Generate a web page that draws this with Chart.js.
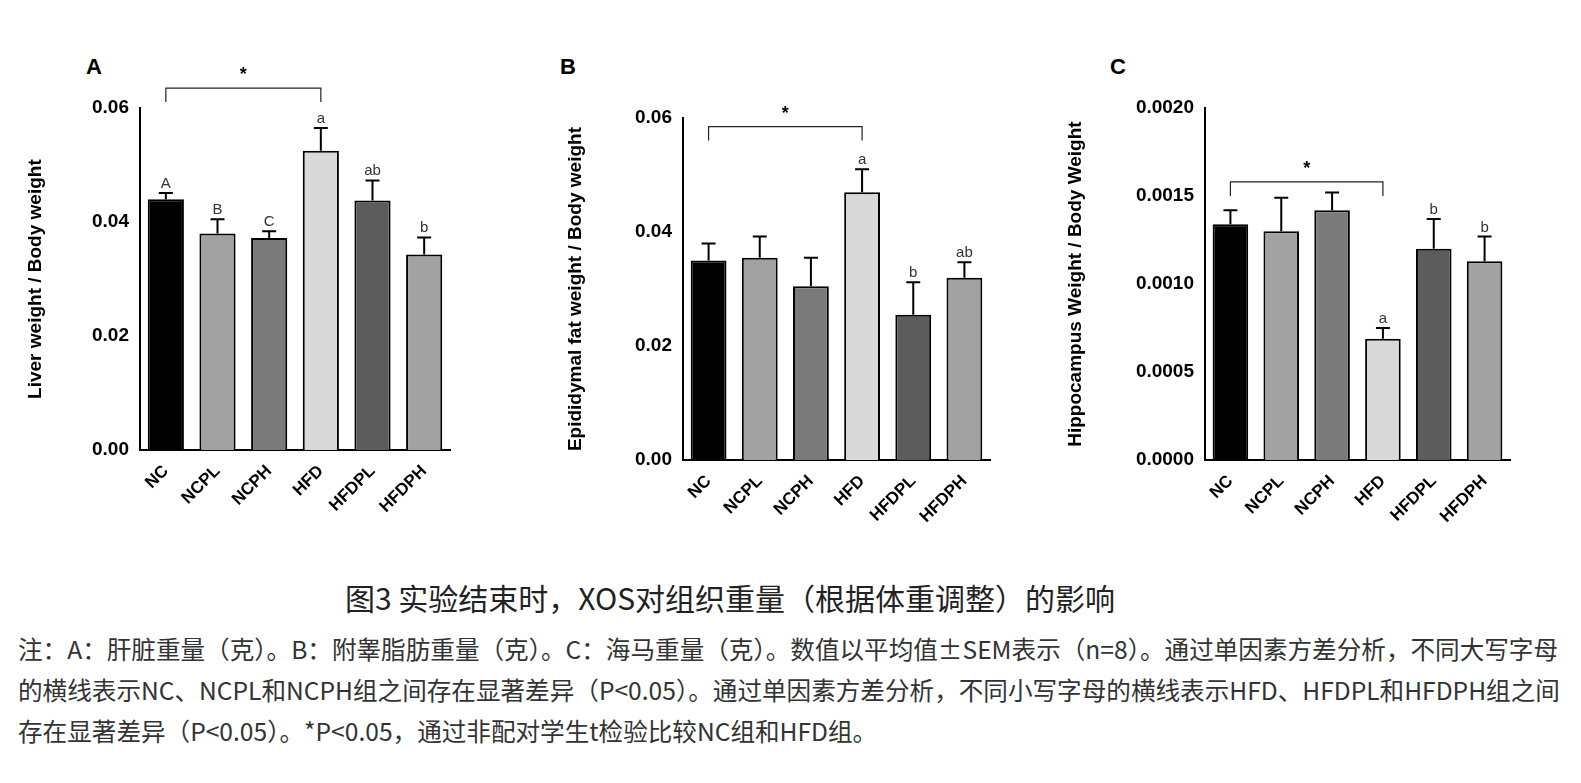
<!DOCTYPE html>
<html><head><meta charset="utf-8">
<script src="https://cdn.jsdelivr.net/npm/chart.js@4"></script>
<style>
body{margin:0;background:#fff;width:1581px;height:783px;position:relative;overflow:hidden;font-family:"Noto Sans CJK SC","Noto Sans",sans-serif}
canvas{position:absolute}
.pl{position:absolute;font:bold 22px Arial,"Liberation Sans";color:#000}
#cap{position:absolute;top:575px;left:0;width:1460px;text-align:center;font-size:30px;color:#222}
#note{position:absolute;top:628px;left:18px;width:1555px;font-size:24.6px;line-height:41px;color:#333}
</style></head><body>
<div class="pl" style="left:86px;top:54px">A</div>
<div class="pl" style="left:560px;top:54px">B</div>
<div class="pl" style="left:1110px;top:54px">C</div>
<canvas id="cA" width="440" height="460" style="left:20px;top:60px"></canvas>
<canvas id="cB" width="440" height="470" style="left:560px;top:60px"></canvas>
<canvas id="cC" width="460" height="470" style="left:1060px;top:60px"></canvas>
<div id="cap">图3 实验结束时，XOS对组织重量（根据体重调整）的影响</div>
<div id="note">注：A：肝脏重量（克）。B：附睾脂肪重量（克）。C：海马重量（克）。数值以平均值±SEM表示（n=8）。通过单因素方差分析，不同大写字母的横线表示NC、NCPL和NCPH组之间存在显著差异（P&lt;0.05）。通过单因素方差分析，不同小写字母的横线表示HFD、HFDPL和HFDPH组之间存在显著差异（P&lt;0.05）。*P&lt;0.05，通过非配对学生t检验比较NC组和HFD组。</div>
<script>
const groups = ["NC","NCPL","NCPH","HFD","HFDPL","HFDPH"];
const barColors = ["#000000","#a2a2a2","#7a7a7a","#d9d9d9","#5c5c5c","#a2a2a2"];
const liverMean = [0.0440,0.0380,0.0372,0.0525,0.0438,0.0343];
const liverErr  = [0.0011,0.0025,0.0012,0.0040,0.0035,0.0030];
const liverLetters = ["A","B","C","a","ab","b"];
const fatMean = [0.0350,0.0355,0.0305,0.0470,0.0255,0.0320];
const fatErr  = [0.0030,0.0037,0.0050,0.0040,0.0057,0.0027];
const fatLetters = ["","","","a","b","ab"];
const hipMean = [0.00134,0.00130,0.00142,0.00069,0.00120,0.00113];
const hipErr  = [0.00008,0.00019,0.00010,0.00006,0.00017,0.00014];
const hipLetters = ["","","","a","b","b"];

const extras = {
  id:"extras",
  afterDatasetsDraw(chart, args, o){
    const c = chart.ctx, y = chart.scales.y, meta = chart.getDatasetMeta(0);
    c.save(); c.strokeStyle="#000"; c.lineWidth=2; c.fillStyle="#333";
    meta.data.forEach((b,i)=>{
      const top = y.getPixelForValue(o.mean[i]+o.err[i]);
      c.beginPath(); c.moveTo(b.x,b.y); c.lineTo(b.x,top);
      c.moveTo(b.x-7,top); c.lineTo(b.x+7,top); c.stroke();
      if(o.letters[i]){ c.font="15px Arial"; c.textAlign="center"; c.fillText(o.letters[i],b.x,top-5); }
    });
    const yb = y.getPixelForValue(o.bracket), x0 = meta.data[0].x, x1 = meta.data[3].x;
    c.lineWidth=1.2; c.strokeStyle="#222";
    c.beginPath(); c.moveTo(x0,yb+14); c.lineTo(x0,yb); c.lineTo(x1,yb); c.lineTo(x1,yb+14); c.stroke();
    c.font="bold 18px Arial"; c.textAlign="center"; c.fillStyle="#000";
    c.fillText("*",(x0+x1)/2,yb-8);
    c.restore();
  }
};

function make(id, mean, err, letters, max, step, title, bracket, dec, yw, top){
  new Chart(document.getElementById(id), {
    type:"bar",
    data:{labels:groups, datasets:[{data:mean, backgroundColor:barColors, borderColor:"#000", borderWidth:2, barPercentage:0.7, categoryPercentage:1}]},
    options:{
      responsive:false, animation:false,
      layout:{padding:{top:top, right:10}},
      plugins:{legend:{display:false}, tooltip:{enabled:false}, extras:{mean, err, letters, bracket}},
      scales:{
        x:{grid:{display:false, drawTicks:true}, border:{color:"#000",width:2},
           ticks:{color:"#000",font:{family:"Arial",weight:"bold",size:17},maxRotation:45,minRotation:45}},
        y:{min:0,max:max, afterFit(s){s.width=yw;}, grid:{display:false}, border:{color:"#000",width:2},
           ticks:{stepSize:step,color:"#000",font:{family:"Arial",weight:"bold",size:19},callback:v=>v.toFixed(dec)},
           title:{display:true,text:title,color:"#000",font:{family:"Arial",weight:"bold",size:19}}}
      }
    },
    plugins:[extras]
  });
}
make("cA", liverMean, liverErr, liverLetters, 0.06, 0.02, "Liver weight / Body weight", 0.0635, 2, 120, 48);
make("cB", fatMean, fatErr, fatLetters, 0.06, 0.02, "Epididymal fat weight / Body weight", 0.0585, 2, 123, 58);
make("cC", hipMean, hipErr, hipLetters, 0.002, 0.0005, "Hippocampus Weight / Body Weight", 0.00158, 4, 145, 48);
</script>
</body></html>
